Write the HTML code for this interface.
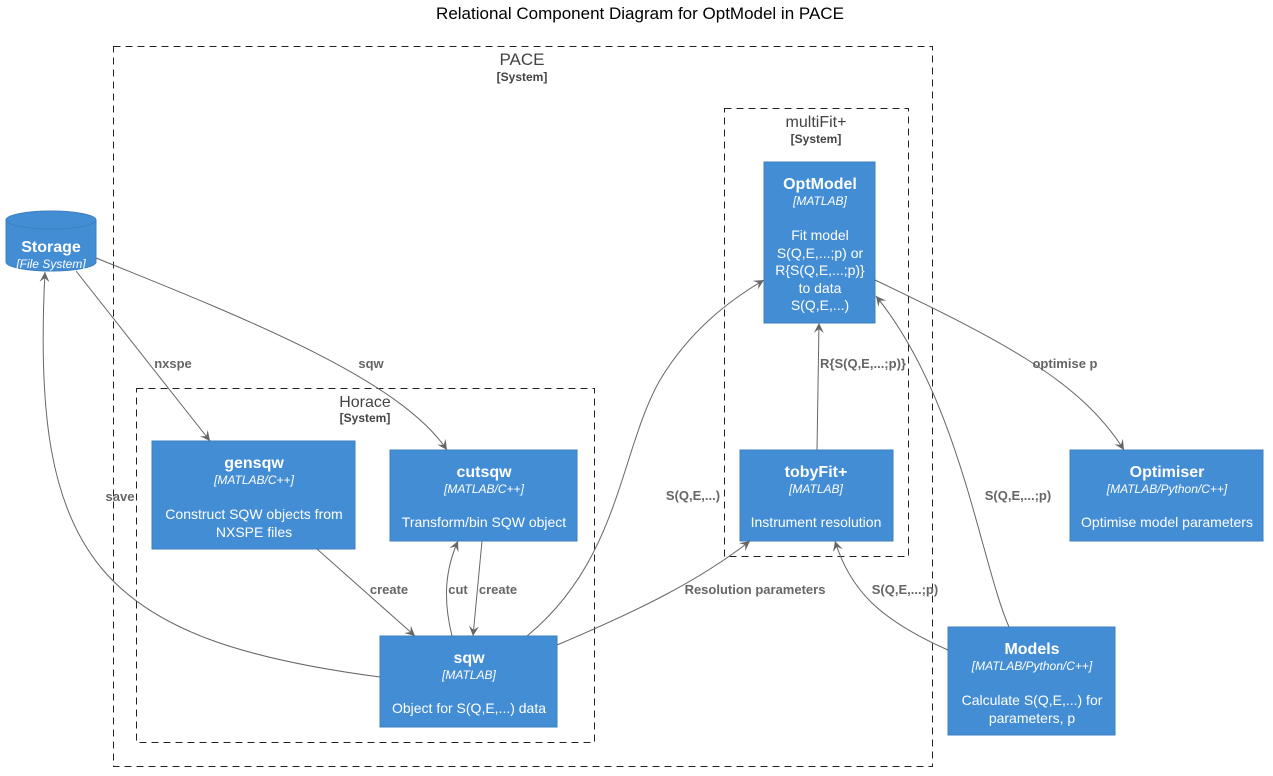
<!DOCTYPE html>
<html><head><meta charset="utf-8"><style>
html,body{margin:0;padding:0;background:#fff;}
svg{display:block;font-family:"Liberation Sans",sans-serif;}
.t{fill:#fff;text-anchor:middle;}
.b{font-weight:bold;font-size:16px;}
.i{font-style:italic;font-size:12px;}
.d{font-size:14px;}
.l{fill:#666;font-weight:bold;font-size:13px;text-anchor:middle;}
.e{fill:none;stroke:#666;stroke-width:1;}
.bx{fill:#438DD5;stroke:#3C7FC0;stroke-width:1;}
.dash{fill:none;stroke:#222;stroke-dasharray:7,5;stroke-width:1;}
.sys{fill:#444;text-anchor:middle;}
</style></head><body>
<svg width="1273" height="776" viewBox="0 0 1273 776">
<defs><marker id="a" markerWidth="12" markerHeight="10" refX="10" refY="5" orient="auto" markerUnits="userSpaceOnUse"><path d="M0,0 L10,5 L0,10 L4,5 Z" fill="#666"/></marker></defs>
<text x="640" y="19" text-anchor="middle" font-size="17" fill="#000">Relational Component Diagram for OptModel in PACE</text>

<rect class="dash" x="113.5" y="46.5" width="819" height="720"/>
<text class="sys" x="522" y="65" font-size="17">PACE</text>
<text class="sys" x="522" y="81" font-size="12" font-weight="bold">[System]</text>
<rect class="dash" x="724.5" y="108.5" width="184" height="448"/>
<text class="sys" x="816" y="127" font-size="16">multiFit+</text>
<text class="sys" x="816" y="143" font-size="12" font-weight="bold">[System]</text>
<rect class="dash" x="136.5" y="388.5" width="458" height="354"/>
<text class="sys" x="365" y="407" font-size="16">Horace</text>
<text class="sys" x="365" y="422" font-size="12" font-weight="bold">[System]</text>

<path class="bx" d="M6,220 A45,9 0 0 1 96,220 L96,262 A45,9 0 0 1 6,262 Z"/>
<path d="M6,220 A45,9 0 0 0 96,220" fill="none" stroke="#3C7FC0"/>
<text class="t b" x="51" y="252">Storage</text>
<text class="t i" x="51" y="268">[File System]</text>

<rect class="bx" x="764" y="162" width="111" height="161"/>
<text class="t b" x="820" y="189">OptModel</text>
<text class="t i" x="820" y="205">[MATLAB]</text>
<text class="t d" x="820" y="240">Fit model</text>
<text class="t d" x="820" y="258">S(Q,E,...;p) or</text>
<text class="t d" x="820" y="275">R{S(Q,E,...;p)}</text>
<text class="t d" x="820" y="293">to data</text>
<text class="t d" x="820" y="310">S(Q,E,...)</text>

<rect class="bx" x="740" y="450" width="153" height="91"/>
<text class="t b" x="816" y="477">tobyFit+</text>
<text class="t i" x="816" y="493">[MATLAB]</text>
<text class="t d" x="816" y="527">Instrument resolution</text>

<rect class="bx" x="1070" y="450" width="193" height="91"/>
<text class="t b" x="1167" y="477">Optimiser</text>
<text class="t i" x="1167" y="493">[MATLAB/Python/C++]</text>
<text class="t d" x="1167" y="527">Optimise model parameters</text>

<rect class="bx" x="152" y="441" width="203" height="108"/>
<text class="t b" x="254" y="468">gensqw</text>
<text class="t i" x="254" y="484">[MATLAB/C++]</text>
<text class="t d" x="254" y="519">Construct SQW objects from</text>
<text class="t d" x="254" y="537">NXSPE files</text>

<rect class="bx" x="390" y="450" width="187" height="91"/>
<text class="t b" x="484" y="477">cutsqw</text>
<text class="t i" x="484" y="493">[MATLAB/C++]</text>
<text class="t d" x="484" y="527">Transform/bin SQW object</text>

<rect class="bx" x="380" y="636" width="177" height="91"/>
<text class="t b" x="469" y="663">sqw</text>
<text class="t i" x="469" y="679">[MATLAB]</text>
<text class="t d" x="469" y="713">Object for S(Q,E,...) data</text>

<rect class="bx" x="948" y="627" width="167" height="108"/>
<text class="t b" x="1032" y="654">Models</text>
<text class="t i" x="1032" y="670">[MATLAB/Python/C++]</text>
<text class="t d" x="1032" y="705">Calculate S(Q,E,...) for</text>
<text class="t d" x="1032" y="723">parameters, p</text>

<path class="e" marker-end="url(#a)" d="M76,271 L210,441"/>
<text class="l" x="173" y="368">nxspe</text>
<path class="e" marker-end="url(#a)" d="M96,258 C250,320 400,380 447,450"/>
<text class="l" x="371" y="368">sqw</text>
<path class="e" marker-end="url(#a)" d="M317,549 L415,636"/>
<text class="l" x="389" y="594">create</text>
<path class="e" marker-end="url(#a)" d="M452,636 C443,600 445,570 458,541"/>
<text class="l" x="458" y="594">cut</text>
<path class="e" marker-end="url(#a)" d="M482,541 L473,636"/>
<text class="l" x="498" y="594">create</text>
<path class="e" marker-end="url(#a)" d="M380,677 C100,640 30,560 45,272"/>
<text class="l" x="120" y="501">save</text>
<path class="e" marker-end="url(#a)" d="M527,636 C620,560 620,450 660,380 C690,330 730,300 764,280"/>
<text class="l" x="693" y="500">S(Q,E,...)</text>
<path class="e" marker-end="url(#a)" d="M557,645 C640,610 700,580 750,541"/>
<text class="l" x="755" y="594">Resolution parameters</text>
<path class="e" marker-end="url(#a)" d="M817,450 L819,323"/>
<text class="l" x="863" y="368">R{S(Q,E,...;p)}</text>
<path class="e" marker-end="url(#a)" d="M875,280 C1000,340 1080,380 1124,450"/>
<text class="l" x="1065" y="368">optimise p</text>
<path class="e" marker-end="url(#a)" d="M1009,627 C980,560 960,400 876,296"/>
<text class="l" x="1018" y="500">S(Q,E,...;p)</text>
<path class="e" marker-end="url(#a)" d="M948,650 C880,620 850,590 835,541"/>
<text class="l" x="905" y="594">S(Q,E,...;p)</text>
</svg>
</body></html>
